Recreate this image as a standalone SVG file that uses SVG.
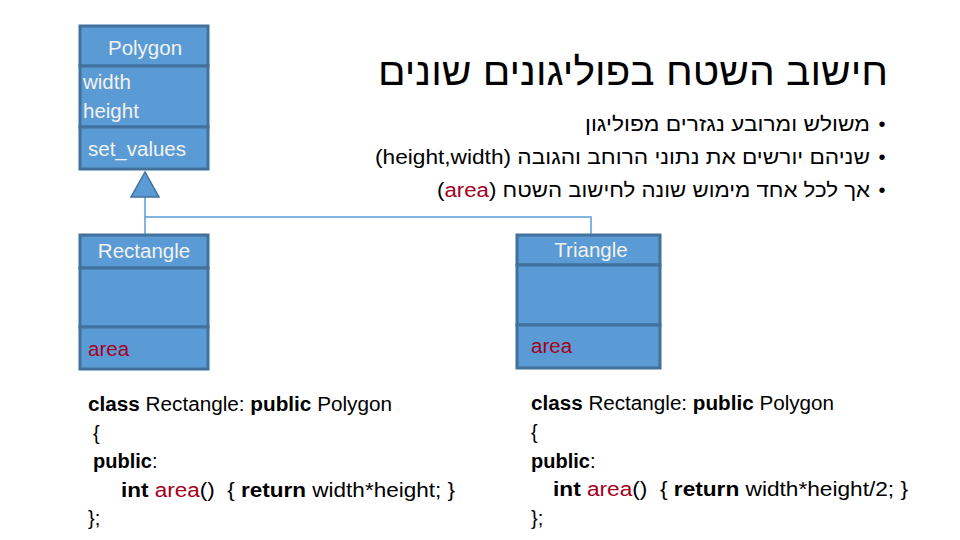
<svg xmlns="http://www.w3.org/2000/svg" width="960" height="540" viewBox="0 0 960 540">
<style>
.box{fill:#5B9BD5;stroke:#41719C;stroke-width:3}
.bt{font-family:"Liberation Sans","DejaVu Sans",sans-serif;font-size:20.5px;fill:#F2F2F2}
.red{fill:#A50021}
.conn{stroke:#5B9BD5;stroke-width:1.5;fill:none}
.title{font-family:"Liberation Sans","DejaVu Sans",sans-serif;font-size:38px;fill:#000}
.bul{font-family:"Liberation Sans","DejaVu Sans",sans-serif;font-size:20px;fill:#000}
.code{font-family:"Liberation Sans","DejaVu Sans",sans-serif;font-size:20px;fill:#000}
.b{font-weight:bold}
</style>
<rect width="960" height="540" fill="#fff"/>
<g id="connectors">
<polyline class="conn" points="145,197 145,217 591,217 591,235"/>
<line class="conn" x1="145" y1="217" x2="145" y2="235"/>
<polygon points="145,172 131,197 159,197" fill="#5B9BD5" stroke="#41719C" stroke-width="1.5"/>
</g>
<g id="polygon">
<rect class="box" x="80" y="26" width="128" height="40"/>
<rect class="box" x="80" y="66" width="128" height="61"/>
<rect class="box" x="80" y="127" width="128" height="42"/>
<text class="bt" x="145" y="55" text-anchor="middle">Polygon</text>
<text class="bt" x="83" y="89">width</text>
<text class="bt" x="83" y="118">height</text>
<text class="bt" x="88" y="156">set_values</text>
</g>
<g id="rectangle">
<rect class="box" x="80" y="235" width="128" height="33"/>
<rect class="box" x="80" y="268" width="128" height="59"/>
<rect class="box" x="80" y="327" width="128" height="42"/>
<text class="bt" x="144" y="258" text-anchor="middle">Rectangle</text>
<text class="bt red" x="88" y="356">area</text>
</g>
<g id="triangle">
<rect class="box" x="517" y="235" width="143" height="30"/>
<rect class="box" x="517" y="265" width="143" height="60"/>
<rect class="box" x="517" y="325" width="143" height="43"/>
<text class="bt" x="591" y="257" text-anchor="middle">Triangle</text>
<text class="bt red" x="531" y="353">area</text>
</g>
<g id="heading">
<text class="title" x="888" y="85" direction="rtl" text-anchor="start" textLength="510" lengthAdjust="spacingAndGlyphs">חישוב השטח בפוליגונים שונים</text>
<text class="bul" x="882" y="131" text-anchor="middle">•</text>
<text class="bul" x="870" y="131" direction="rtl" text-anchor="start" textLength="285" lengthAdjust="spacingAndGlyphs">משולש ומרובע נגזרים מפוליגון</text>
<text class="bul" x="882" y="164" text-anchor="middle">•</text>
<text class="bul" x="870" y="164" direction="rtl" text-anchor="start" textLength="495" lengthAdjust="spacingAndGlyphs">שניהם יורשים את נתוני הרוחב והגובה (height,width)</text>
<text class="bul" x="882" y="197" text-anchor="middle">•</text>
<text class="bul" x="870" y="197" direction="rtl" text-anchor="start" textLength="433" lengthAdjust="spacingAndGlyphs">אך לכל אחד מימוש שונה לחישוב השטח (<tspan fill="#A50021">area</tspan>)</text>
</g>
<g id="code-rectangle">
<text class="code" x="88" y="411" textLength="304" lengthAdjust="spacingAndGlyphs"><tspan class="b">class</tspan> Rectangle: <tspan class="b">public</tspan> Polygon</text>
<text class="code" x="93" y="440">{</text>
<text class="code" x="93" y="468"><tspan class="b">public</tspan>:</text>
<text class="code" x="121" y="497" xml:space="preserve" textLength="334" lengthAdjust="spacingAndGlyphs"><tspan class="b">int</tspan> <tspan fill="#A50021">area</tspan>()  { <tspan class="b">return</tspan> width*height; }</text>
<text class="code" x="88" y="525">};</text>
</g>
<g id="code-triangle">
<text class="code" x="531" y="410" textLength="303" lengthAdjust="spacingAndGlyphs"><tspan class="b">class</tspan> Rectangle: <tspan class="b">public</tspan> Polygon</text>
<text class="code" x="531" y="439">{</text>
<text class="code" x="531" y="468"><tspan class="b">public</tspan>:</text>
<text class="code" x="553" y="496" xml:space="preserve" textLength="355" lengthAdjust="spacingAndGlyphs"><tspan class="b">int</tspan> <tspan fill="#A50021">area</tspan>()  { <tspan class="b">return</tspan> width*height/2; }</text>
<text class="code" x="531" y="525">};</text>
</g>
</svg>
